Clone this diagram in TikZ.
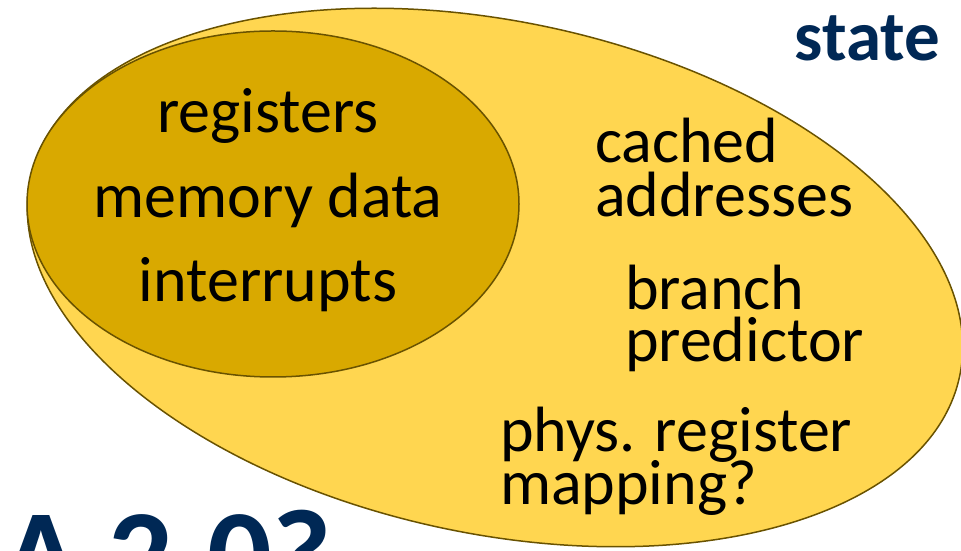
\documentclass[tikz,border=0pt]{standalone}
\usepackage{fontspec}
\setmainfont{Carlito}
\definecolor{outerfill}{RGB}{255,214,80}
\definecolor{innerfill}{RGB}{217,169,0}
\definecolor{edgecol}{RGB}{105,82,0}
\definecolor{navy}{RGB}{0,40,85}
\tikzset{
  blob/.style={draw=edgecol, line width=1.5pt},
  body/.style={inner sep=0pt, outer sep=0pt, font=\fontsize{64}{64}\selectfont, text=black},
  title/.style={inner sep=0pt, outer sep=0pt, text=navy},
}
\begin{document}
\begin{tikzpicture}[x=1pt,y=1pt]
\useasboundingbox (0,0) rectangle (961,551);
% outer ellipse (state)
\draw[blob, fill=outerfill, rotate around={-12:(495,273.5)}] (495,273.5) ellipse [x radius=475, y radius=256];
% inner ellipse (architectural state)
\draw[blob, fill=innerfill] (273,347) ellipse [x radius=246, y radius=173];
% inner texts
\node[body, anchor=base] (reg) at (268,418) {registers};
\node[body, anchor=base] (mem) at (268,333) {memory data};
\node[body, anchor=base] (intr) at (268,249) {interrupts};
% outer texts
\node[body, anchor=base west] (cached) at (595,388) {cached};
\node[body, anchor=base west] (addr) at (595,334) {addresses};
\node[body, anchor=base west] (branch) at (625,241) {branch};
\node[body, anchor=base west] (pred) at (625,189) {predictor};
\node[body, anchor=base west] (phys) at (500,99) {phys. register};
\node[body, anchor=base west] (mapq) at (500,46) {mapping?};
% titles
\node[title, anchor=base east, font=\fontsize{71}{71}\selectfont\bfseries] (state) at (940,490) {state};
\node[title, anchor=base west, font=\fontsize{128}{128}\selectfont\bfseries] (isa) at (2,-48) {A 2.0?};
\end{tikzpicture}
\end{document}
